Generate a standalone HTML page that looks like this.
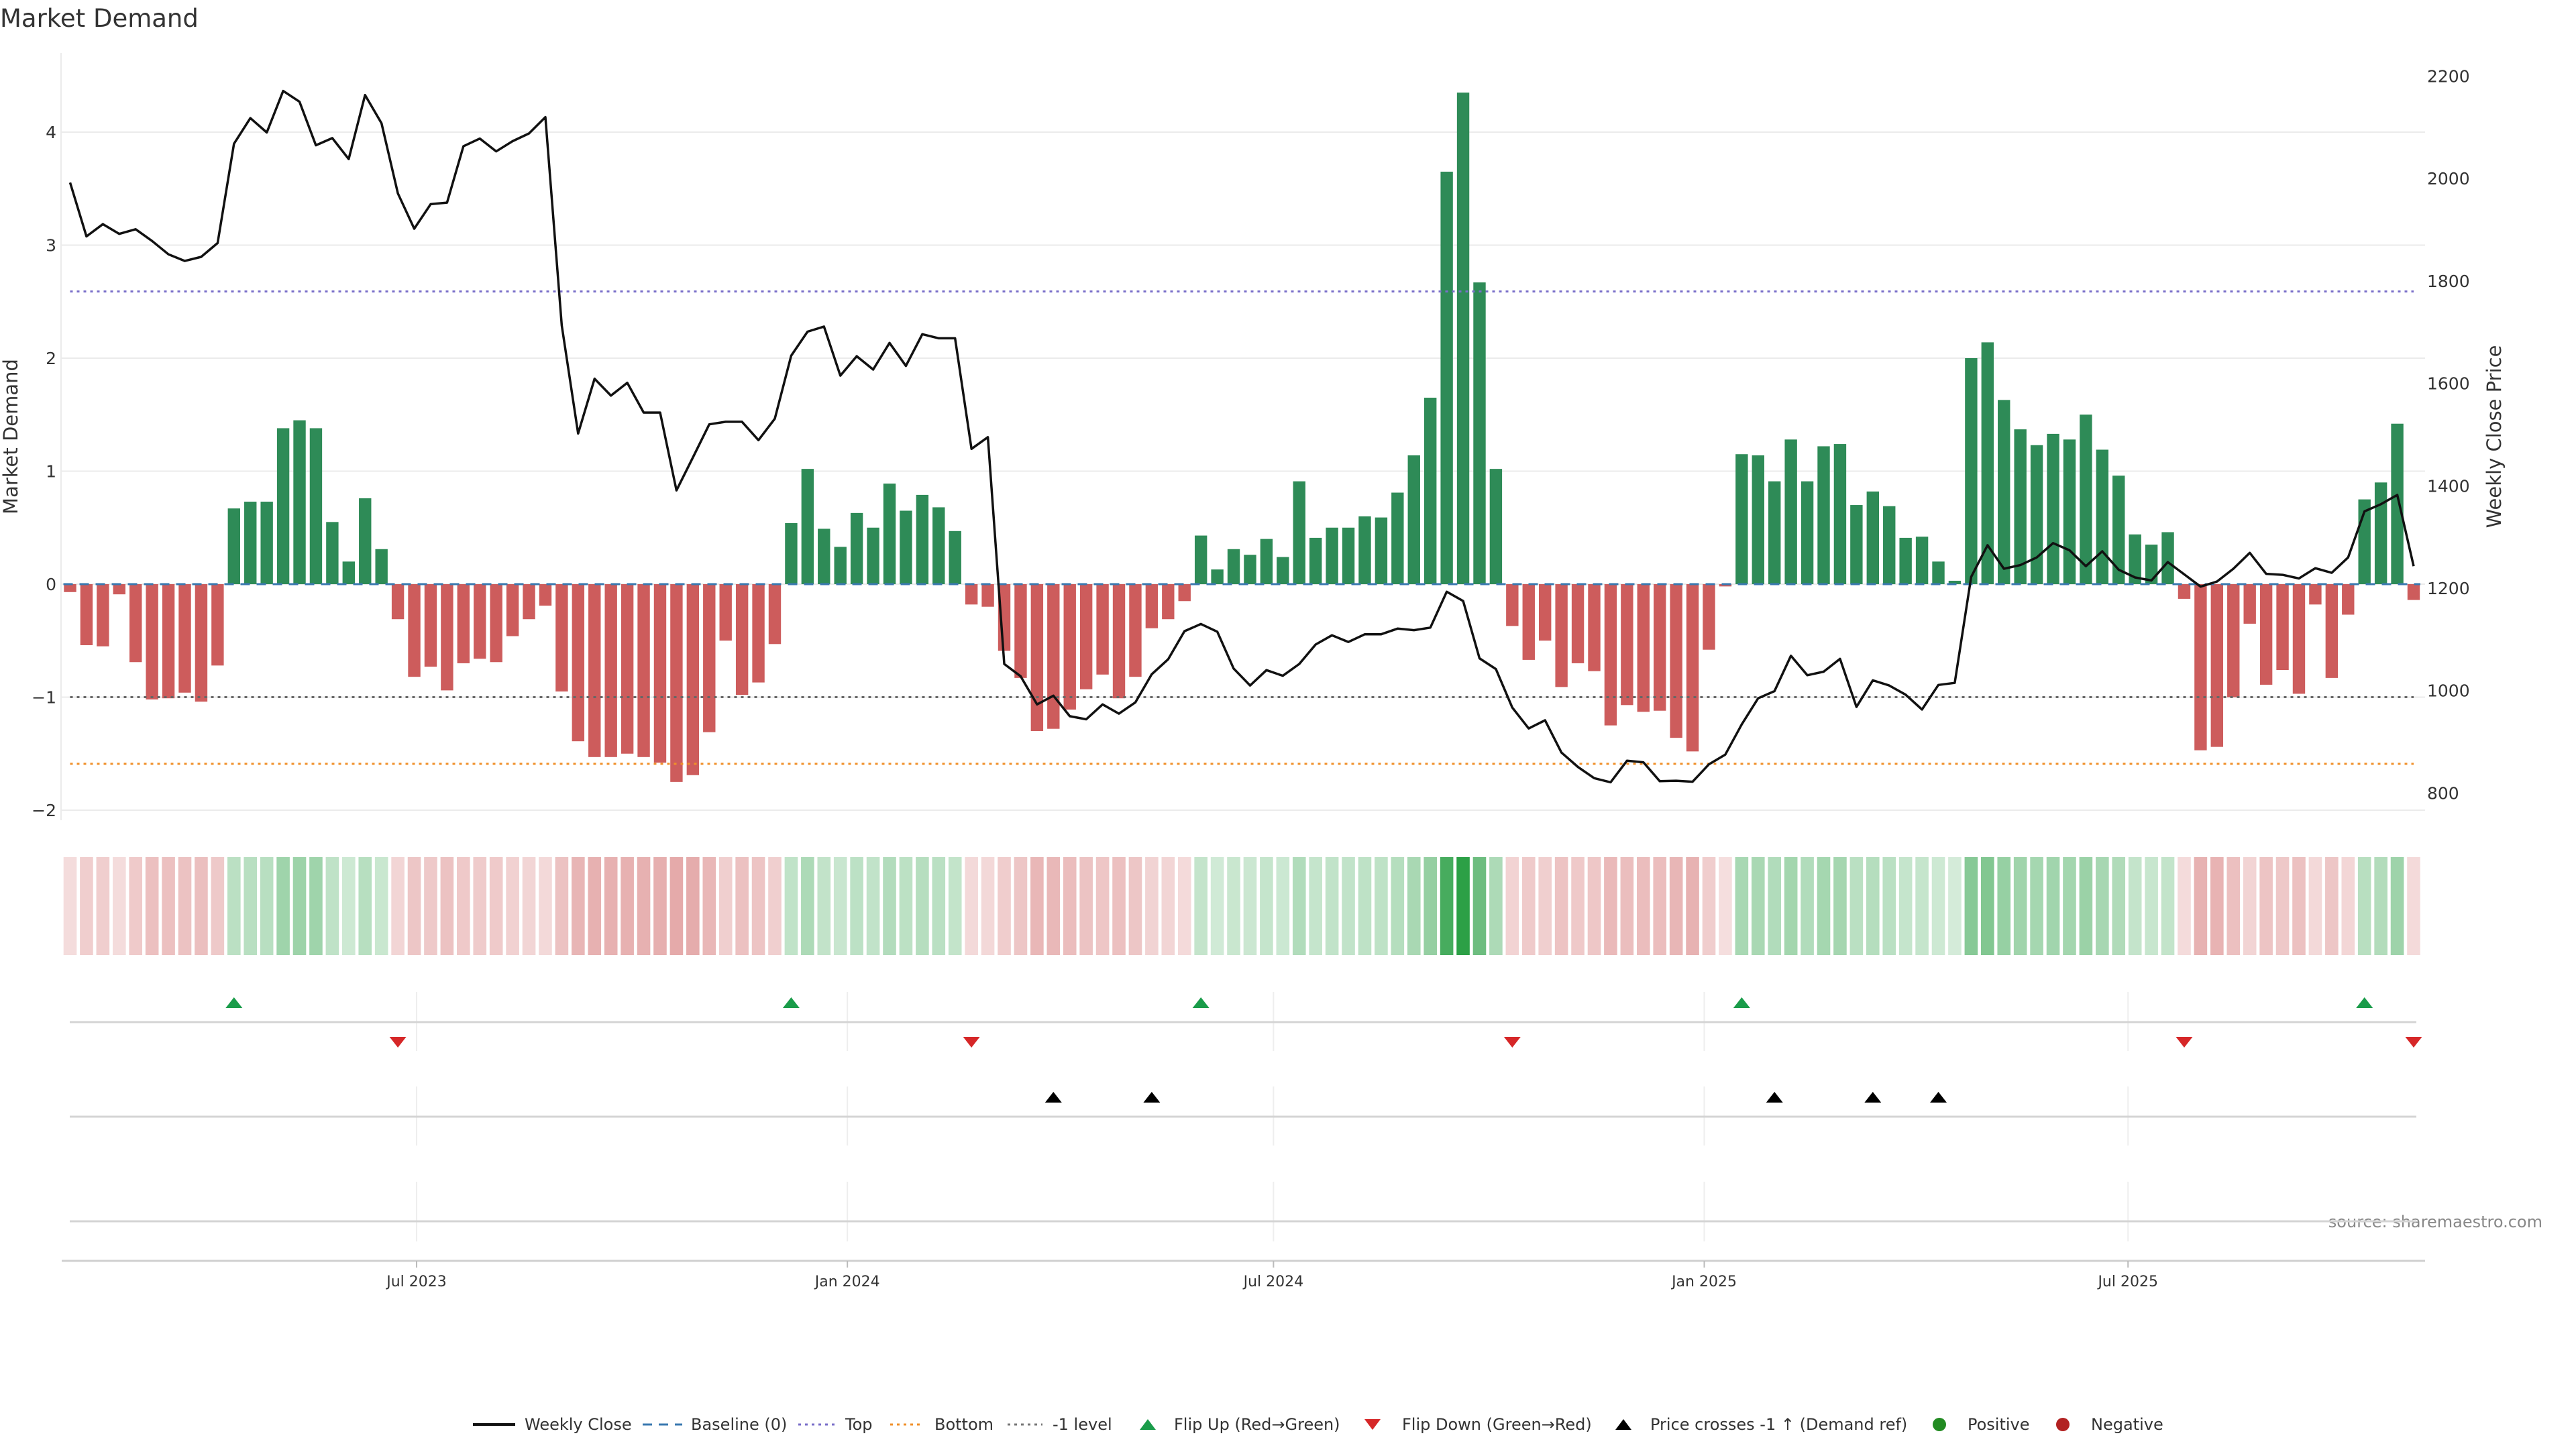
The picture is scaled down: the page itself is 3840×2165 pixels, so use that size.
<!DOCTYPE html>
<html><head><meta charset="utf-8">
<style>
html,body{margin:0;padding:0;background:#fff;}
body{width:3840px;height:2160px;overflow:hidden;font-family:"Liberation Sans","DejaVu Sans",sans-serif;}
svg text{font-family:"DejaVu Sans","Liberation Sans",sans-serif;}
</style></head>
<body>
<svg id="chart" width="3840" height="2160" viewBox="0 0 3840 2160" xmlns="http://www.w3.org/2000/svg">
<text x="0" y="40" font-size="37" fill="#333">Market Demand</text>
<text transform="translate(26,651) rotate(-90)" text-anchor="middle" font-size="29" fill="#333">Market Demand</text>
<text transform="translate(3728,651) rotate(-90)" text-anchor="middle" font-size="29" fill="#333">Weekly Close Price</text>
<text x="3790" y="1830" text-anchor="end" font-size="24" fill="#888">source: sharemaestro.com</text>
<g id="grid"></g>
<g id="bars"></g>
<g id="refs"></g>
<g id="line"></g>
<g id="heat"></g>
<g id="events"></g>
<g id="xaxis"></g>
<g id="legend"></g>
</svg>
<script>
const demand = [-0.07,-0.54,-0.55,-0.09,-0.69,-1.02,-1.01,-0.96,-1.04,-0.72,
0.67,0.73,0.73,1.38,1.45,1.38,0.55,0.20,0.76,0.31,
-0.31,-0.82,-0.73,-0.94,-0.70,-0.66,-0.69,-0.46,-0.31,-0.19,
-0.95,-1.39,-1.53,-1.53,-1.50,-1.53,-1.58,-1.75,-1.69,-1.31,
-0.50,-0.98,-0.87,-0.53,0.54,1.02,0.49,0.33,0.63,0.50,
0.89,0.65,0.79,0.68,0.47,-0.18,-0.20,-0.59,-0.83,-1.30,
-1.28,-1.11,-0.93,-0.80,-1.01,-0.82,-0.39,-0.31,-0.15,0.43,
0.13,0.31,0.26,0.40,0.24,0.91,0.41,0.50,0.50,0.60,
0.59,0.81,1.14,1.65,3.65,4.35,2.67,1.02,-0.37,-0.67,
-0.50,-0.91,-0.70,-0.77,-1.25,-1.07,-1.13,-1.12,-1.36,-1.48,
-0.58,-0.02,1.15,1.14,0.91,1.28,0.91,1.22,1.24,0.70,
0.82,0.69,0.41,0.42,0.20,0.03,2.00,2.14,1.63,1.37,
1.23,1.33,1.28,1.50,1.19,0.96,0.44,0.35,0.46,-0.13,
-1.47,-1.44,-1.00,-0.35,-0.89,-0.76,-0.97,-0.18,-0.83,-0.27,
0.75,0.90,1.42,-0.14];
const price = [1992,1887,1911,1892,1901,1878,1852,1839,1847,1874,
2068,2118,2090,2171,2150,2065,2079,2038,2163,2108,
1971,1902,1950,1953,2063,2078,2053,2073,2088,2120,
1713,1502,1609,1576,1601,1543,1543,1391,1455,1520,
1525,1525,1489,1531,1654,1701,1711,1615,1653,1627,
1679,1634,1696,1688,1688,1472,1495,1052,1028,973,
990,950,944,973,955,977,1032,1061,1116,1130,
1115,1043,1010,1040,1029,1052,1090,1108,1095,1110,
1110,1121,1118,1123,1193,1175,1063,1042,967,926,
942,879,851,829,821,863,860,823,824,822,
856,875,934,985,999,1068,1030,1037,1062,968,
1020,1010,992,963,1011,1015,1222,1284,1238,1245,
1260,1288,1274,1243,1272,1236,1221,1215,1251,1227,
1203,1213,1238,1269,1228,1226,1219,1239,1230,1260,
1350,1364,1382,1243];
const crossIdx = [60,66,104,110,114];
const demandTicks = [-2,-1,0,1,2,3,4];
const priceTicks = [800,1000,1200,1400,1600,1800,2000,2200];
const dateTicks = ["2023-07-01","2024-01-01","2024-07-01","2025-01-01","2025-07-01"];
const dateTickLabels = ["Jul 2023","Jan 2024","Jul 2024","Jan 2025","Jul 2025"];
const topLevel = 2.59, bottomLevel = -1.59, minusOne = -1;
const startDate = "2023-02-03";

const NS="http://www.w3.org/2000/svg";
function mk(tag, attrs, parent){const e=document.createElementNS(NS,tag);for(const k in attrs)e.setAttribute(k,attrs[k]);parent.appendChild(e);return e;}
const X0=104.5, STEP=24.43;
function xIdx(i){return X0+i*STEP;}
const t0=Date.parse(startDate+"T00:00:00Z");
function xDate(s){return X0+(Date.parse(s+"T00:00:00Z")-t0)/(7*86400000)*STEP;}
function yD(v){return 871-v*168.5;}
function yP(p){return 877-(p-1200)*0.7635;}
const PL=91, PR=3615;

const grid=document.getElementById('grid');
demandTicks.forEach(v=>{
  const l=mk('line',{x1:PL,x2:PR,y1:yD(v),y2:yD(v),stroke:'#ebebeb','stroke-width':2},grid);
  
  
  const t=mk('text',{x:84,y:yD(v)+9,'text-anchor':'end','font-size':25,fill:'#333'},grid);
  t.textContent=v<0?'\u2212'+Math.abs(v):String(v);
  
  
});
const sp=mk('line',{x1:PL,x2:PL,y1:79,y2:1223,stroke:'#ebebeb','stroke-width':2},grid);


priceTicks.forEach(p=>{
  const t=mk('text',{x:3618,y:yP(p)+9,'font-size':25,fill:'#333'},grid);
  t.textContent=String(p);
  
  
});

const bars=document.getElementById('bars');
demand.forEach((v,i)=>{
  const y=Math.min(yD(0),yD(v)), h=Math.abs(yD(v)-yD(0));
  const r=mk('rect',{x:xIdx(i)-9.2,y:y,width:18.4,height:Math.max(h,0.5),fill:v>=0?'#2e8b57':'#cd5c5c'},bars);
  
  
});

const refs=document.getElementById('refs');
[[topLevel,'#7a6fc9','top-level-line'],[minusOne,'#666','minus-one-level-line'],[bottomLevel,'#f0902a','bottom-level-line']].forEach(a=>{
  const l=mk('line',{x1:xIdx(0),x2:xIdx(demand.length-1),y1:yD(a[0]),y2:yD(a[0]),stroke:a[1],'stroke-width':3,'stroke-dasharray':'4 6'},refs);
  
  
});
const bl=mk('line',{x1:xIdx(0)-10,x2:xIdx(demand.length-1)+10,y1:yD(0),y2:yD(0),stroke:'#3a78b0','stroke-width':3,'stroke-dasharray':'14 10'},refs);



const lineG=document.getElementById('line');
const pts=price.map((p,i)=>xIdx(i).toFixed(1)+','+yP(p).toFixed(1)).join(' ');
const pl=mk('polyline',{points:pts,fill:'none',stroke:'#111','stroke-width':3.5,'stroke-linejoin':'round'},lineG);



const heat=document.getElementById('heat');
const mx=Math.max(...demand.map(Math.abs));
demand.forEach((v,i)=>{
  const a=0.2+0.8*Math.abs(v)/mx;
  const base=v>=0?[44,160,70]:[205,92,92];
  const c=base.map(b=>Math.round(255-a*(255-b)));
  const r=mk('rect',{x:xIdx(i)-9.8,y:1278,width:19.6,height:146,fill:'rgb('+c.join(',')+')'},heat);
  
  
});

const ev=document.getElementById('events');
dateTicks.forEach(d=>{
  const x=xDate(d);
  [[1479,1567],[1620,1708],[1762,1851]].forEach(s=>{
    const g=mk('line',{x1:x,x2:x,y1:s[0],y2:s[1],stroke:'#eeeeee','stroke-width':2},ev);
    
    
  });
});
[1524,1665,1821].forEach(y=>{
  const l=mk('line',{x1:104,x2:3602,y1:y,y2:y,stroke:'#d4d4d4','stroke-width':3},ev);
  
  
});
function tri(x,yc,up,color,name){
  const h=16,w=12.5;
  const p=up?`${x},${yc-h/2} ${x-w},${yc+h/2} ${x+w},${yc+h/2}`:`${x-w},${yc-h/2} ${x+w},${yc-h/2} ${x},${yc+h/2}`;
  const e=mk('polygon',{points:p,fill:color},ev);
  
  
}
for(let i=1;i<demand.length;i++){
  if(demand[i]>=0&&demand[i-1]<0)tri(xIdx(i),1495,true,'#1a9c4a','flip-up-marker');
  if(demand[i]<0&&demand[i-1]>=0)tri(xIdx(i),1554,false,'#d62728','flip-down-marker');
}
crossIdx.forEach(i=>tri(xIdx(i),1636,true,'#000','price-cross-marker'));

const xa=document.getElementById('xaxis');
const ax=mk('line',{x1:92,x2:3615,y1:1880,y2:1880,stroke:'#d0d0d0','stroke-width':3},xa);


dateTicks.forEach((d,k)=>{
  const x=xDate(d);
  const tk=mk('line',{x1:x,x2:x,y1:1880,y2:1890,stroke:'#bbb','stroke-width':2},xa);
  
  
  const t=mk('text',{x:x,y:1918,'text-anchor':'middle','font-size':22,fill:'#333'},xa);
  t.textContent=dateTickLabels[k];
  
  
});

const lg=document.getElementById('legend');
const LY=2124;
function ltext(x,s){const t=mk('text',{x:x,y:LY+8,'font-size':24,fill:'#333'},lg);t.textContent=s;}
function lline(x1,x2,color,dash,w,name){const l=mk('line',{x1:x1,x2:x2,y1:LY,y2:LY,stroke:color,'stroke-width':w,'stroke-dasharray':dash},lg);}
lline(705,768,'#111','none',4,'legend-weekly-close');ltext(782,'Weekly Close');
lline(958,1017,'#3a78b0','14 10',3,'legend-baseline');ltext(1030,'Baseline (0)');
lline(1190,1244,'#7a6fc9','4 6',3,'legend-top');ltext(1260,'Top');
lline(1327,1376,'#f0902a','4 6',3,'legend-bottom');ltext(1393,'Bottom');
lline(1502,1554,'#777','4 6',3,'legend-minus-one');ltext(1569,'-1 level');
function ltri(x,up,color,name){const h=16,w=12;const p=up?`${x},${LY-h/2} ${x-w},${LY+h/2} ${x+w},${LY+h/2}`:`${x-w},${LY-h/2} ${x+w},${LY-h/2} ${x},${LY+h/2}`;const e=mk('polygon',{points:p,fill:color},lg);}
ltri(1711,true,'#1a9c4a','legend-flip-up');ltext(1750,'Flip Up (Red\u2192Green)');
ltri(2046,false,'#d62728','legend-flip-down');ltext(2090,'Flip Down (Green\u2192Red)');
ltri(2420,true,'#000','legend-price-cross');ltext(2460,'Price crosses -1 \u2191 (Demand ref)');
const d1=mk('circle',{cx:2891,cy:LY,r:10,fill:'#228b22'},lg);
ltext(2933,'Positive');
const d2=mk('circle',{cx:3075,cy:LY,r:10,fill:'#b22222'},lg);
ltext(3117,'Negative');
</script>
</body></html>
